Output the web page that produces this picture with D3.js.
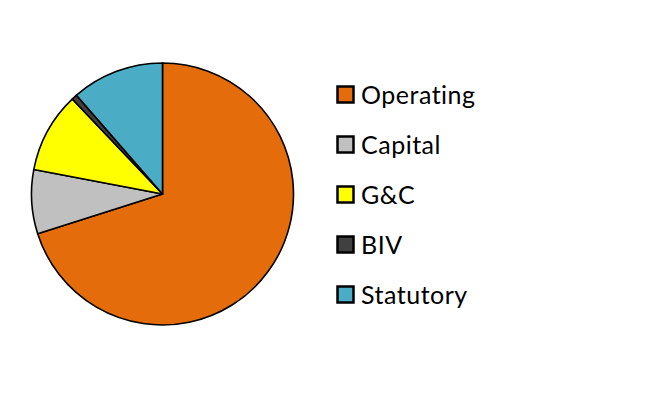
<!DOCTYPE html>
<html>
<head>
<meta charset="utf-8">
<script src="https://cdn.jsdelivr.net/npm/d3@7"></script>
<style>
  html, body { margin: 0; padding: 0; background: #fff; }
  svg { display: block; }
</style>
</head>
<body>
<script>
const categories = ["Operating", "Capital", "G&C", "BIV", "Statutory"];
const values = [70.1, 7.9, 9.9, 0.7, 11.4];
const colors = ["#E46C0A", "#C0C0C0", "#FFFF00", "#404040", "#4BACC6"];

const W = 657, H = 404;
const cx = 162.5, cy = 194, R = 131;

const svg = d3.select("body").append("svg").attr("width", W).attr("height", H);

const data = categories.map((c, i) => ({ cat: c, value: values[i], color: colors[i] }));

const pie = d3.pie().value(d => d.value).sort(null);
const arc = d3.arc().innerRadius(0).outerRadius(R);

svg.append("g").attr("transform", `translate(${cx},${cy})`)
  .selectAll("path").data(pie(data)).join("path")
  .attr("d", arc)
  .attr("fill", d => d.data.color)
  .attr("stroke", "#000")
  .attr("stroke-width", 1.6)
  .attr("stroke-linejoin", "round");

const legendY = d3.scalePoint().domain(categories).range([95, 295]);

const lg = svg.append("g");
const items = lg.selectAll("g").data(data).join("g")
  .attr("transform", d => `translate(0,${legendY(d.cat)})`);
items.append("rect")
  .attr("x", 337.5).attr("y", -8.5).attr("width", 16).attr("height", 16)
  .attr("fill", d => d.color).attr("stroke", "#000").attr("stroke-width", 2.5);
items.append("text")
  .attr("x", 361).attr("y", 8.5)
  .attr("font-family", "Lato, 'Liberation Sans', sans-serif")
  .attr("font-size", 25)
  .attr("letter-spacing", 0.5)
  .attr("fill", "#000")
  .text(d => d.cat);
</script>
</body>
</html>
